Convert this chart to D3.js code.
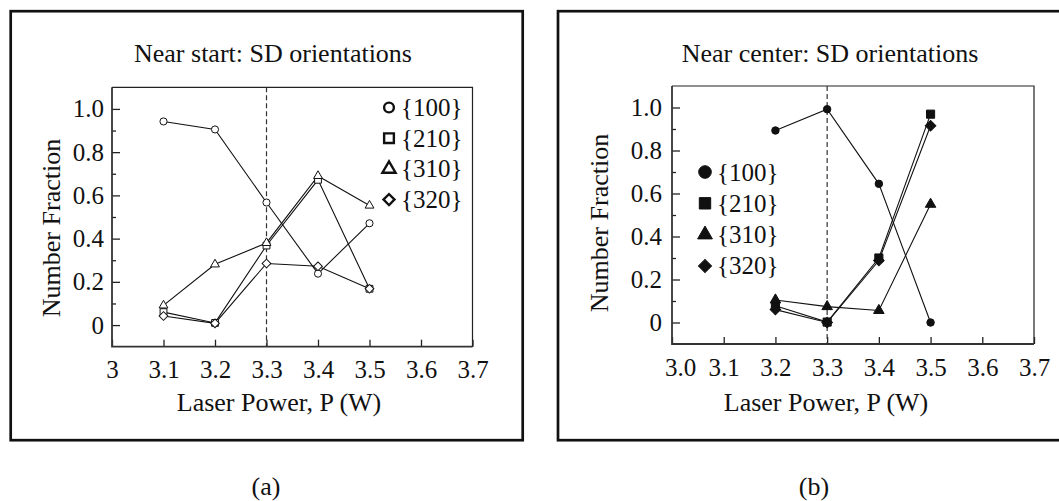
<!DOCTYPE html>
<html lang="en">
<head>
    <meta charset="UTF-8">
    <title>SD orientations vs laser power</title>
    <script src="https://d3js.org/d3.v7.min.js"></script>
    <style>
        html, body { margin: 0; padding: 0; background: #ffffff; }
        svg { display: block; }
        text { font-family: "Liberation Serif", "Times New Roman", serif; fill: #111; }
    </style>
</head>
<body>
    <div id="chart"></div>
    <script>
        // ---- data ----
        const orientations = ["{100}", "{210}", "{310}", "{320}"];
        const xTickValues = [3.0, 3.1, 3.2, 3.3, 3.4, 3.5, 3.6, 3.7];
        const xTickLabelsA = ["3", "3.1", "3.2", "3.3", "3.4", "3.5", "3.6", "3.7"];
        const xTickLabelsB = ["3.0", "3.1", "3.2", "3.3", "3.4", "3.5", "3.6", "3.7"];
        const yMajorTicks = [0, 0.2, 0.4, 0.6, 0.8, 1.0];
        const yMinorTicks = [0.1, 0.3, 0.5, 0.7, 0.9];
        const yTickLabels = ["0", "0.2", "0.4", "0.6", "0.8", "1.0"];
        const markerPower = 3.3; // dashed line

        // (a) near start
        const powerStart = [3.1, 3.2, 3.3, 3.4, 3.5];
        const start100 = [0.942, 0.905, 0.567, 0.238, 0.471];
        const start210 = [0.060, 0.010, 0.368, 0.672, 0.168];
        const start310 = [0.091, 0.281, 0.380, 0.690, 0.553];
        const start320 = [0.042, 0.008, 0.285, 0.272, 0.168];

        // (b) near center
        const powerCenter = [3.2, 3.3, 3.4, 3.5];
        const center100 = [0.893, 0.992, 0.645, 0.000];
        const center210 = [0.078, 0.002, 0.300, 0.969];
        const center310 = [0.105, 0.074, 0.056, 0.550];
        const center320 = [0.060, 0.000, 0.288, 0.915];

        const width = 1059, height = 501;
        const svg = d3.select("#chart").append("svg")
            .attr("width", width)
            .attr("height", height);

        const shapes = [d3.symbolCircle, d3.symbolSquare, d3.symbolTriangle, d3.symbolSquare];

        function drawPanel(p) {
            // outer frame
            svg.append("rect")
                .attr("x", p.frame[0]).attr("y", p.frame[1])
                .attr("width", p.frame[2]).attr("height", p.frame[3])
                .attr("fill", "none").attr("stroke", "#111").attr("stroke-width", 2.7);

            const x = d3.scaleLinear().domain([3.0, 3.7]).range([p.left, p.right]);
            const y = d3.scaleLinear().domain([-0.1, 1.1]).range([p.bottom, p.top]);

            const g = svg.append("g");

            // minor y ticks
            g.append("g")
                .attr("transform", `translate(${p.left},0)`)
                .call(d3.axisLeft(y).tickValues(yMinorTicks).tickSize(-4).tickFormat(""))
                .call(s => s.select(".domain").remove());
            // major y ticks
            g.append("g")
                .attr("transform", `translate(${p.left},0)`)
                .call(d3.axisLeft(y).tickValues(yMajorTicks).tickSize(-8).tickPadding(p.yPad)
                    .tickFormat((d, i) => yTickLabels[i]))
                .call(s => s.select(".domain").remove())
                .call(s => s.selectAll("text").style("font-size", "25px"));
            // x ticks
            g.append("g")
                .attr("transform", `translate(0,${p.bottom})`)
                .call(d3.axisBottom(x).tickValues(xTickValues).tickSize(-7).tickPadding(14)
                    .tickFormat((d, i) => p.xLabels[i]))
                .call(s => s.select(".domain").remove())
                .call(s => s.selectAll("text").style("font-size", "25px")
                    .attr("dx", (d, i) => i === 0 ? p.firstShift : 0));
            g.selectAll(".tick line").attr("stroke", "#222").attr("stroke-width", 1.3);

            // axis box
            g.append("path")
                .attr("d", `M${p.left},${p.top}H${p.right}V${p.bottom}`)
                .attr("fill", "none").attr("stroke", "#222").attr("stroke-width", 1.2);
            g.append("path")
                .attr("d", `M${p.left},${p.top}V${p.bottom}H${p.right}`)
                .attr("fill", "none").attr("stroke", "#333").attr("stroke-width", 1.8);

            // dashed reference
            g.append("line")
                .attr("x1", x(markerPower)).attr("x2", x(markerPower))
                .attr("y1", p.top).attr("y2", p.bottom)
                .attr("stroke", "#333").attr("stroke-width", 1.2)
                .attr("stroke-dasharray", "5,3");

            const line = d3.line().x(d => x(d[0])).y(d => y(d[1]));
            p.series.forEach(vals => {
                g.append("path")
                    .datum(p.power.map((v, i) => [v, vals[i]]))
                    .attr("d", line)
                    .attr("fill", "none").attr("stroke", "#111").attr("stroke-width", 1.1);
            });
            p.series.forEach((vals, k) => {
                g.selectAll(null)
                    .data(p.power.map((v, i) => [v, vals[i]]))
                    .enter().append("path")
                    .attr("d", d3.symbol(shapes[k], p.sizes[k]))
                    .attr("transform", d => `translate(${x(d[0])},${y(d[1])})` + (k === 3 ? " rotate(45)" : ""))
                    .attr("fill", p.filled ? "#111" : "#fff")
                    .attr("stroke", "#111").attr("stroke-width", 1);
            });

            // legend
            const lg = svg.append("g");
            orientations.forEach((name, k) => {
                const ly = p.legY + k * p.legStep;
                lg.append("path")
                    .attr("d", d3.symbol(shapes[k], p.legSizes[k]))
                    .attr("transform", `translate(${p.legX},${ly})` + (k === 3 ? " rotate(45)" : ""))
                    .attr("fill", p.filled ? "#111" : "none")
                    .attr("stroke", "#111").attr("stroke-width", p.filled ? 1 : 2.4);
                lg.append("text")
                    .attr("x", p.legX + 12).attr("y", ly)
                    .attr("dy", "0.34em")
                    .style("font-size", "25px")
                    .text(name);
            });

            // titles
            svg.append("text")
                .attr("x", p.titleX).attr("y", 62)
                .attr("text-anchor", "middle")
                .style("font-size", "26px")
                .text(p.title);
            svg.append("text")
                .attr("x", p.xTitleX).attr("y", 411)
                .attr("text-anchor", "middle")
                .style("font-size", "26px")
                .text("Laser Power, P (W)");
            svg.append("text")
                .attr("transform", `translate(${p.yTitleX},${p.yTitleY}) rotate(-90)`)
                .attr("text-anchor", "middle")
                .style("font-size", "26px")
                .text("Number Fraction");
            svg.append("text")
                .attr("x", p.captionX).attr("y", 495)
                .attr("text-anchor", "middle")
                .style("font-size", "26px")
                .text(p.caption);
        }

        drawPanel({
            frame: [10.7, 11.2, 512, 429],
            left: 112, right: 472.5, top: 87.3, bottom: 346.7,
            yPad: 8, xLabels: xTickLabelsA, firstShift: 0,
            power: powerStart,
            series: [start100, start210, start310, start320],
            filled: false,
            sizes: [40, 46, 34, 38],
            legX: 389, legY: 107.5, legStep: 30.7,
            legSizes: [75, 95, 75, 60],
            title: "Near start: SD orientations", titleX: 273,
            xTitleX: 279, yTitleX: 60, yTitleY: 228,
            caption: "(a)", captionX: 266
        });

        drawPanel({
            frame: [558, 11.2, 600, 429],
            left: 672, right: 1034, top: 86, bottom: 344,
            yPad: 10, xLabels: xTickLabelsB, firstShift: 8,
            power: powerCenter,
            series: [center100, center210, center310, center320],
            filled: true,
            sizes: [44, 66, 48, 56],
            legX: 705, legY: 172, legStep: 31.3,
            legSizes: [125, 130, 95, 85],
            title: "Near center: SD orientations", titleX: 830,
            xTitleX: 826, yTitleX: 608, yTitleY: 223,
            caption: "(b)", captionX: 814
        });
    </script>
</body>
</html>
